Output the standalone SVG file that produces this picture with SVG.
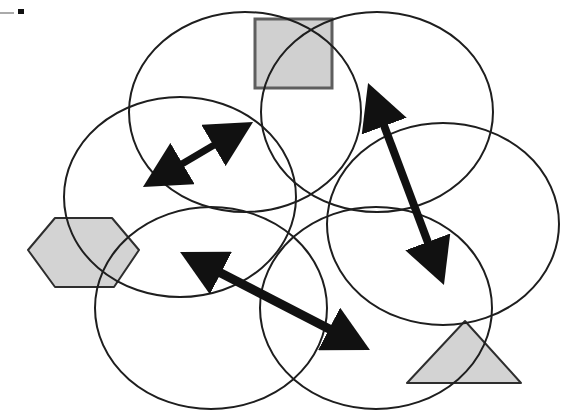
<svg xmlns="http://www.w3.org/2000/svg" width="567" height="411" viewBox="0 0 567 411">
<style>
.zone{fill:none;stroke:#1e1e1e;stroke-width:2}
.shape{fill:#d3d3d3;stroke:#2e2e2e;stroke-width:2;stroke-linejoin:round}
.sq{fill:#d0d0d0;stroke:#5e5e5e;stroke-width:3}
.arrow{stroke:#111;fill:none;marker-start:url(#head);marker-end:url(#head)}
</style>
<defs>
<marker id="head" viewBox="0 0 46 48" refX="16" refY="24" markerWidth="46" markerHeight="48" markerUnits="userSpaceOnUse" orient="auto-start-reverse">
<path d="M0,0 L46,24 L0,48 z" fill="#111"/>
</marker>
</defs>
<rect width="567" height="411" fill="#ffffff"/>
<g id="mark">
<line x1="0" y1="13" x2="14" y2="13" stroke="#aaa" stroke-width="2"/>
<rect x="18" y="9" width="6" height="5" fill="#111"/>
</g>
<g id="square"><rect class="sq" x="255" y="19" width="77" height="69"/></g>
<g id="hexagon"><polygon class="shape" points="28,250 55,218 112,218 139,250 114,287 55,287"/></g>
<g id="triangle"><polygon class="shape" points="465,321 407,383 521,383"/></g>
<g id="zone-a"><ellipse class="zone" cx="245" cy="112" rx="116" ry="100"/></g>
<g id="zone-b"><ellipse class="zone" cx="377" cy="112" rx="116" ry="100"/></g>
<g id="zone-c"><ellipse class="zone" cx="180" cy="197" rx="116" ry="100"/></g>
<g id="zone-d"><ellipse class="zone" cx="443" cy="224" rx="116" ry="101"/></g>
<g id="zone-e"><ellipse class="zone" cx="211" cy="308" rx="116" ry="101"/></g>
<g id="zone-f"><ellipse class="zone" cx="376" cy="308" rx="116" ry="101"/></g>
<g id="connectors">
<line class="arrow" stroke-width="7" x1="168.8" y1="171.7" x2="227.2" y2="137.3"/>
<line class="arrow" stroke-width="8" x1="378.6" y1="111.1" x2="433.4" y2="256.9"/>
<line class="arrow" stroke-width="9" x1="206.7" y1="265.7" x2="343.3" y2="336.3"/>
</g>
</svg>
